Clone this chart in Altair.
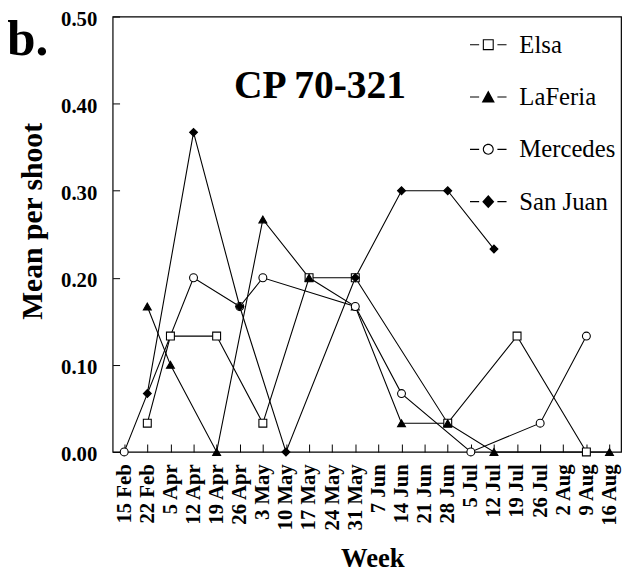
import altair as alt
import pandas as pd

weeks = ["15 Feb", "22 Feb", "5 Apr", "12 Apr", "19 Apr", "26 Apr", "3 May", "10 May",
         "17 May", "24 May", "31 May", "7 Jun", "14 Jun", "21 Jun", "28 Jun", "5 Jul",
         "12 Jul", "19 Jul", "26 Jul", "2 Aug", "9 Aug", "16 Aug"]
series_names = ["Elsa", "LaFeria", "Mercedes", "San Juan"]

elsa = [None, 0.033, 0.133, None, 0.133, None, 0.033, None, 0.2, None, 0.2, None,
        None, None, 0.033, None, None, 0.133, None, None, 0.0, None]
laferia = [None, 0.167, 0.1, None, 0.0, None, 0.267, None, 0.2, None, 0.167, None,
           0.033, None, 0.033, None, 0.0, None, None, None, None, 0.0]
mercedes = [0.0, None, None, 0.2, None, 0.167, 0.2, None, None, None, 0.167, None,
            0.067, None, None, 0.0, None, None, 0.033, None, 0.133, None]
san_juan = [None, 0.067, None, 0.367, None, 0.167, None, 0.0, None, None, 0.2, None,
            0.3, None, 0.3, None, 0.233, None, None, None, None, None]

y_ticks = [0.0, 0.1, 0.2, 0.3, 0.4, 0.5]
shapes = ["square", "triangle-up", "circle", "diamond"]
fills = ["white", "black", "white", "black"]

# legend glyphs "-X-": filled outlines (dashes + marker) in a -1..1 box
DASHES = "M-1,-0.03H-0.5V0.03H-1Z M0.5,-0.03H1V0.03H0.5Z "
legend_paths = [
    DASHES + "M-0.3,-0.3H0.3V0.3H-0.3Z M-0.24,-0.24V0.24H0.24V-0.24Z",
    DASHES + "M0,-0.36L0.36,0.3H-0.36Z",
    DASHES + "M0.3,0A0.3,0.3,0,1,1,-0.3,0A0.3,0.3,0,1,1,0.3,0Z "
             "M0.24,0A0.24,0.24,0,1,0,-0.24,0A0.24,0.24,0,1,0,0.24,0Z",
    DASHES + "M0,-0.36L0.33,0L0,0.36L-0.33,0Z",
]

rows = []
for name, vals in zip(series_names, [elsa, laferia, mercedes, san_juan]):
    for i, (w, v) in enumerate(zip(weeks, vals)):
        if v is not None:
            rows.append({"week": w, "idx": i, "series": name, "value": v})
df = pd.DataFrame(rows)

SERIF = "Liberation Serif"
xscale = alt.Scale(type="point", domain=weeks, padding=0.5)
yscale = alt.Scale(domain=[0, 0.5], nice=False, zero=True)

x_main = alt.X("week:O", scale=xscale, axis=alt.Axis(
    title="Week", labelAngle=270, labelAlign="right", labelBaseline="middle",
    labelFont=SERIF, labelFontSize=21, labelFontWeight="bold", labelColor="black",
    labelPadding=12, labelOverlap=False, ticks=False, tickSize=0, domain=False, grid=False,
    titleFont=SERIF, titleFontSize=27, titleFontWeight="bold", titleColor="black",
    titleX=263, titleY=116, titleBaseline="alphabetic"))
y_main = alt.Y("value:Q", scale=yscale, axis=alt.Axis(
    title="Mean per shoot", values=y_ticks, format=".2f",
    labelFont=SERIF, labelFontSize=21, labelFontWeight="bold", labelColor="black",
    labelPadding=16, labelOffset=3, ticks=False, tickSize=0, domain=False, grid=False,
    titleFont=SERIF, titleFontSize=30, titleFontWeight="bold", titleColor="black",
    titleAngle=270, titleX=-72, titleY=207, titleAlign="center", titleBaseline="alphabetic"))

x_ticks = alt.X("week:O", scale=xscale, axis=alt.Axis(
    orient="bottom", offset=-8, ticks=True, tickSize=8, tickColor="black", tickWidth=1,
    labels=False, domain=False, grid=False, title=None))
y_ticks_ax = alt.Y("value:Q", scale=yscale, axis=alt.Axis(
    orient="left", offset=-7, values=y_ticks, ticks=True, tickSize=7, tickColor="black",
    tickWidth=1, labels=False, domain=False, grid=False, title=None))

lines = alt.Chart(df).mark_line(color="black", strokeWidth=1.1).encode(
    x=x_main, y=y_main, detail="series:N", order="idx:Q")

points = alt.Chart(df).mark_point(size=64, stroke="black", strokeWidth=1.1, opacity=1).encode(
    x=x_ticks, y=y_ticks_ax,
    shape=alt.Shape("series:N", scale=alt.Scale(domain=series_names, range=shapes), legend=None),
    fill=alt.Fill("series:N", scale=alt.Scale(domain=series_names, range=fills), legend=None))

legend_layer = alt.Chart(df).transform_filter("false").mark_point(
    filled=True, color="black", opacity=1, strokeWidth=0).encode(
    shape=alt.Shape("series:N", scale=alt.Scale(domain=series_names, range=legend_paths),
                    legend=alt.Legend(
                        title=None, orient="none", legendX=362, legendY=10, symbolSize=1369,
                        symbolFillColor="black", symbolStrokeWidth=0, labelFont=SERIF,
                        labelFontSize=25, labelColor="black", labelOffset=13, rowPadding=21,
                        padding=0)))

title_layer = alt.Chart(pd.DataFrame({"t": ["CP 70-321"]})).mark_text(
    font=SERIF, fontSize=40, fontWeight="bold", align="center", baseline="alphabetic",
    color="black").encode(x=alt.value(210), y=alt.value(82), text="t:N")
panel_layer = alt.Chart(pd.DataFrame({"t": ["b."]})).mark_text(
    font=SERIF, fontSize=52, fontWeight="bold", align="left", baseline="alphabetic",
    color="black").encode(x=alt.value(-107), y=alt.value(39), text="t:N")

chart = alt.layer(lines, points, legend_layer, title_layer, panel_layer).resolve_scale(
    shape="independent", fill="independent").resolve_axis(
    x="independent", y="independent").properties(
    width=515, height=441, autosize=alt.AutoSizeParams(type="none"),
    padding={"left": 106, "top": 5, "right": 4, "bottom": 121},
    background="white").configure_view(stroke="black", strokeWidth=1.2)

chart.save("out.html", embed_options={"renderer": "svg", "actions": False})
